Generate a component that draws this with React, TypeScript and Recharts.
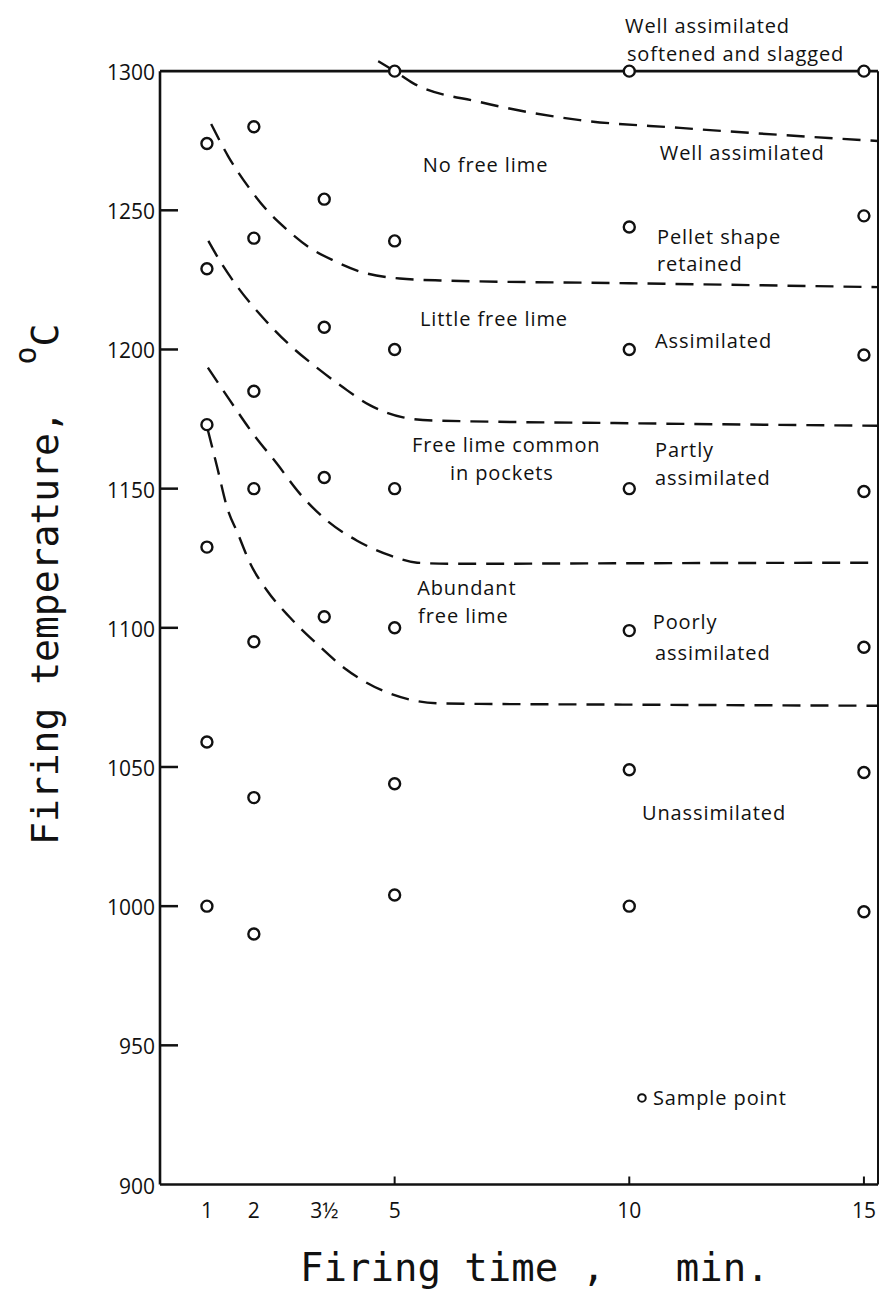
import React from 'react';
import {
  ComposedChart,
  Line,
  Scatter,
  XAxis,
  YAxis,
  ReferenceLine,
  ReferenceDot,
  Label,
} from 'recharts';

// ---- axis ticks ----
const timeTicks = [1, 2, 3.5, 5, 10, 15];
const markedTimeTicks = [5, 10, 15];
const tempTicks = [900, 950, 1000, 1050, 1100, 1150, 1200, 1250, 1300];

// ---- sample points: firing temperature (°C) at each firing time (min) ----
const temps1min = [1274, 1229, 1173, 1129, 1059, 1000];
const temps2min = [1280, 1240, 1185, 1150, 1095, 1039, 990];
const temps3halfMin = [1254, 1208, 1154, 1104];
const temps5min = [1300, 1239, 1200, 1150, 1100, 1044, 1004];
const temps10min = [1300, 1244, 1200, 1150, 1099, 1049, 1000];
const temps15min = [1300, 1248, 1198, 1149, 1093, 1048, 998];

// ---- dashed region boundaries (time, temperature) ----
const boundarySlagged = [
  { x: 4.65, y: 1303.6 }, { x: 5.0, y: 1300 }, { x: 5.39, y: 1295.7 },
  { x: 6.82, y: 1288.9 }, { x: 8.95, y: 1282.4 }, { x: 11.08, y: 1279.6 },
  { x: 13.21, y: 1277.1 }, { x: 15.3, y: 1274.9 },
];
const boundaryNoFreeLime = [
  { x: 1.09, y: 1281 }, { x: 1.45, y: 1269.5 }, { x: 1.88, y: 1258.5 },
  { x: 2.28, y: 1250 }, { x: 2.71, y: 1243 }, { x: 3.15, y: 1237 },
  { x: 3.69, y: 1232 }, { x: 4.26, y: 1228 }, { x: 5.11, y: 1225.5 },
  { x: 5.97, y: 1224.8 }, { x: 10, y: 1223.8 }, { x: 15.3, y: 1222.4 },
];
const boundaryLittleFreeLime = [
  { x: 1.03, y: 1239 }, { x: 1.27, y: 1232 }, { x: 1.66, y: 1222.3 },
  { x: 2.19, y: 1211.5 }, { x: 2.77, y: 1201.5 }, { x: 3.34, y: 1193.5 },
  { x: 3.9, y: 1186.4 }, { x: 4.47, y: 1180 }, { x: 5.18, y: 1175.6 },
  { x: 5.82, y: 1174.5 }, { x: 10, y: 1173.5 }, { x: 15.3, y: 1172.6 },
];
const boundaryFreeLimeCommon = [
  { x: 1.02, y: 1193.5 }, { x: 1.49, y: 1181.7 }, { x: 1.98, y: 1169.8 },
  { x: 2.49, y: 1159 }, { x: 2.98, y: 1148.2 }, { x: 3.56, y: 1138.5 },
  { x: 4.2, y: 1131.3 }, { x: 4.9, y: 1126 }, { x: 5.48, y: 1123.4 },
  { x: 6.18, y: 1123 }, { x: 10, y: 1123.2 }, { x: 15.3, y: 1123.4 },
];
const boundaryAbundant = [
  { x: 1.02, y: 1171 }, { x: 1.22, y: 1157.6 }, { x: 1.43, y: 1143.2 },
  { x: 1.66, y: 1133.8 }, { x: 1.92, y: 1123.2 }, { x: 2.28, y: 1113.4 },
  { x: 2.77, y: 1103.7 }, { x: 3.34, y: 1094.3 }, { x: 3.94, y: 1085.4 },
  { x: 4.75, y: 1077.4 }, { x: 5.33, y: 1074.2 }, { x: 6.03, y: 1072.8 },
  { x: 10, y: 1072.4 }, { x: 15.3, y: 1072 },
];

// ---- region notes (text, time, temperature) ----
const regionNotes = [
  { text: 'Well assimilated', x: 9.91, y: 1316.4 },
  { text: 'softened and slagged', x: 9.95, y: 1306.5 },
  { text: 'No free lime', x: 5.6, y: 1266.3 },
  { text: 'Well assimilated', x: 10.65, y: 1270.9 },
  { text: 'Pellet shape', x: 10.59, y: 1240.6 },
  { text: 'retained', x: 10.59, y: 1230.9 },
  { text: 'Little free lime', x: 5.54, y: 1211.3 },
  { text: 'Assimilated', x: 10.55, y: 1203.4 },
  { text: 'Free lime common', x: 5.37, y: 1165.9 },
  { text: 'in pockets', x: 6.18, y: 1155.8 },
  { text: 'Partly', x: 10.55, y: 1164.1 },
  { text: 'assimilated', x: 10.55, y: 1154.0 },
  { text: 'Abundant', x: 5.48, y: 1114.5 },
  { text: 'free lime', x: 5.5, y: 1104.4 },
  { text: 'Poorly', x: 10.5, y: 1102.1 },
  { text: 'assimilated', x: 10.55, y: 1091.3 },
  { text: 'Unassimilated', x: 10.27, y: 1033.8 },
];
const legendPoint = { text: 'Sample point', x: 10.27, y: 931.1 };

const sampleColumns: [number, number[]][] = [
  [1, temps1min],
  [2, temps2min],
  [3.5, temps3halfMin],
  [5, temps5min],
  [10, temps10min],
  [15, temps15min],
];
const samplePoints = sampleColumns.flatMap(([t, temps]) => temps.map((v) => ({ x: t, y: v })));
const boundaries = [
  boundarySlagged,
  boundaryNoFreeLime,
  boundaryLittleFreeLime,
  boundaryFreeLimeCommon,
  boundaryAbundant,
];

const INK = '#111';
const SANS = '"Open Sans", "Noto Sans", sans-serif';
const MONO = '"DejaVu Sans Mono", monospace';

function TimeTick(props: any) {
  const { x, y, payload } = props;
  const v = payload.value;
  const label = v === 3.5 ? '3½' : String(v);
  return (
    <g>
      {markedTimeTicks.includes(v) && (
        <line x1={x} x2={x} y1={y} y2={y - 8} stroke={INK} strokeWidth={2} />
      )}
      <text x={x} y={y + 25} textAnchor="middle" dominantBaseline="central" fontFamily={SANS} fontSize={21} fill={INK}>
        {label}
      </text>
    </g>
  );
}

function TempTick(props: any) {
  const { x, y, payload } = props;
  const v = payload.value;
  const inner = v !== 900 && v !== 1300;
  return (
    <g>
      {inner && <line x1={x} x2={x + 18} y1={y} y2={y} stroke={INK} strokeWidth={2.5} />}
      <text x={x - 5} y={y + 1} textAnchor="end" dominantBaseline="central" fontFamily={SANS} fontSize={21} fill={INK}>
        {v}
      </text>
    </g>
  );
}

function YTitle() {
  return (
    <text
      transform="translate(58, 845) rotate(-90)"
      x={0}
      y={0}
      fontFamily={MONO}
      fontSize={38}
      fill={INK}
      style={{ whiteSpace: 'pre' }}
    >
      {'Firing temperature,  '}
      <tspan fontSize={30} dy={-22}>o</tspan>
      <tspan dy={22}>C</tspan>
    </text>
  );
}

function XTitle() {
  return (
    <text x={300} y={1281} fontFamily={MONO} fontSize={39} fill={INK} style={{ whiteSpace: 'pre' }}>
      {'Firing time ,   min.'}
    </text>
  );
}

const SampleMark = (p: any) => (
  <circle cx={p.cx} cy={p.cy} r={5.5} fill="#fff" stroke={INK} strokeWidth={2.4} />
);

export default function App() {
  return (
    <div style={{ position: 'absolute', left: 0, top: 0, width: 881, height: 1292, background: '#fff' }}>
      <ComposedChart
        width={881}
        height={1292}
        margin={{ top: 60, right: 3, bottom: 47.5, left: 100 }}
      >
        <XAxis
          type="number"
          dataKey="x"
          domain={[0, 15.3]}
          allowDataOverflow
          ticks={timeTicks}
          interval={0}
          tickSize={0}
          tickMargin={0}
          tickLine={false}
          tick={<TimeTick />}
          axisLine={{ stroke: INK, strokeWidth: 2.6 }}
          height={60}
        >
          <Label content={<XTitle />} />
        </XAxis>
        <YAxis
          type="number"
          dataKey="y"
          domain={[900, 1304]}
          allowDataOverflow
          ticks={tempTicks}
          interval={0}
          tickSize={0}
          tickMargin={0}
          tickLine={false}
          tick={<TempTick />}
          axisLine={false}
          width={60}
        >
          <Label content={<YTitle />} />
        </YAxis>

        {boundaries.map((b, i) => (
          <Line
            key={i}
            data={b}
            dataKey="y"
            type="monotone"
            stroke={INK}
            strokeWidth={2.4}
            strokeDasharray="18 10"
            dot={false}
            activeDot={false}
            isAnimationActive={false}
          />
        ))}

        <ReferenceLine y={1300} stroke={INK} strokeWidth={2.6} />
        <ReferenceLine
          segment={[{ x: 0, y: 900 }, { x: 0, y: 1300 }]}
          stroke={INK}
          strokeWidth={2.6}
        />
        <ReferenceLine
          segment={[{ x: 15.3, y: 900 }, { x: 15.3, y: 1300 }]}
          stroke={INK}
          strokeWidth={2}
        />

        <Scatter data={samplePoints} dataKey="y" shape={SampleMark} isAnimationActive={false} />

        {regionNotes.map((n, i) => (
          <ReferenceDot
            key={i}
            x={n.x}
            y={n.y}
            r={1}
            ifOverflow="visible"
            shape={(p: any) => (
              <text x={p.cx} y={p.cy} dominantBaseline="central" fontFamily={SANS} fontSize={20} letterSpacing={0.9} fill={INK}>
                {n.text}
              </text>
            )}
          />
        ))}
        <ReferenceDot
          x={legendPoint.x}
          y={legendPoint.y}
          r={1}
          ifOverflow="visible"
          shape={(p: any) => (
            <g>
              <circle cx={p.cx} cy={p.cy} r={3.8} fill="#fff" stroke={INK} strokeWidth={2} />
              <text x={p.cx + 11} y={p.cy} dominantBaseline="central" fontFamily={SANS} fontSize={20} letterSpacing={0.9} fill={INK}>
                {legendPoint.text}
              </text>
            </g>
          )}
        />
      </ComposedChart>
    </div>
  );
}
